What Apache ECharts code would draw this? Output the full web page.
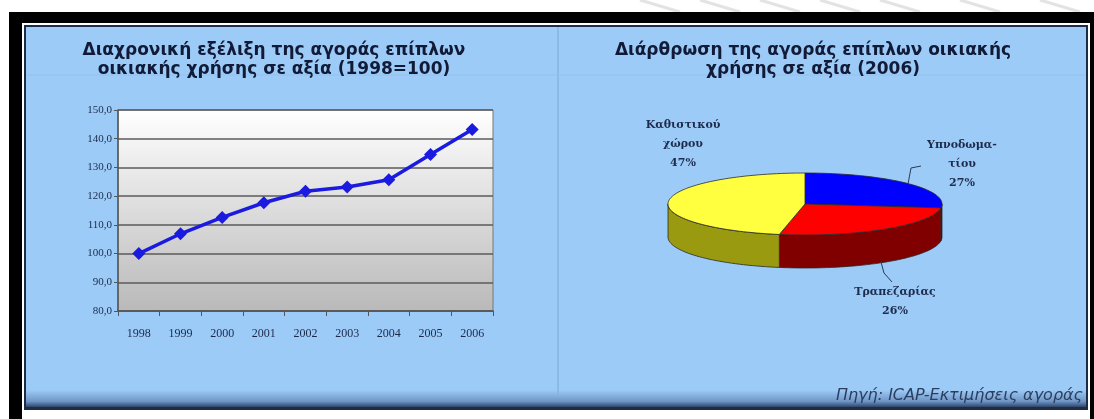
<!DOCTYPE html>
<html>
<head>
<meta charset="utf-8">
<script src="https://cdn.jsdelivr.net/npm/echarts@6/dist/echarts.min.js"></script>
<style>
  html, body { margin: 0; padding: 0; background: #fff; }
  #chart { width: 1094px; height: 419px; }
</style>
</head>
<body>
<div id="chart"></div>
<script>
// line chart: market index (1998=100)
const years = ["1998", "1999", "2000", "2001", "2002", "2003", "2004", "2005", "2006"];
const marketIndex = [100, 106.9, 112.6, 117.7, 121.7, 123.2, 125.7, 134.5, 143.2];

// pie: market structure 2006 (clockwise from 12 o'clock)
const rooms = ["Υπνοδωμα-\nτίου", "Τραπεζαρίας", "Καθιστικού\nχώρου"];
const roomShares = [27, 26, 47];

const titleLeft = "Διαχρονική εξέλιξη της αγοράς επίπλων\nοικιακής χρήσης σε αξία (1998=100)";
const titleRight = "Διάρθρωση της αγοράς επίπλων οικιακής\nχρήσης σε αξία (2006)";
const sourceText = "Πηγή: ICAP-Εκτιμήσεις αγοράς";

// pie geometry (pseudo 3D)
const CX = 805, CY = 204, RX = 137, RY = 31, DEPTH = 33;
const topColors = ["#0000ff", "#ff0000", "#ffff40"];
const sideColors = ["#00007a", "#800000", "#9a9a10"];

// start / end angles, degrees, going clockwise from the top
const total = roomShares.reduce((a, b) => a + b, 0);
const angStart = [], angEnd = [];
let acc = 90;
roomShares.forEach(v => {
  angStart.push(acc);
  acc -= v / total * 360;
  angEnd.push(acc);
});

function ellPt(deg, dy) {
  const r = deg * Math.PI / 180;
  return [CX + RX * Math.cos(r), CY - RY * Math.sin(r) + (dy || 0)];
}
function arc(from, to, dy) {
  const n = Math.max(2, Math.ceil(Math.abs(from - to) / 2));
  const pts = [];
  for (let k = 0; k <= n; k++) pts.push(ellPt(from + (to - from) * k / n, dy));
  return pts;
}

// label placement per slice (layout only)
const labelLayout = [
  { x: 962, y: 164, leader: [[908, 184], [911, 168], [921, 166]] },
  { x: 895, y: 302, leader: [[881, 262], [884, 273], [892, 282]] },
  { x: 683, y: 144, leader: null }
];

function renderSlice(params, api) {
  const i = params.dataIndex;
  const a1 = angStart[i], a2 = angEnd[i];
  const children = [];
  // visible front wall
  const hi = Math.min(a1, 0), lo = Math.max(a2, -180);
  if (hi > lo) {
    const pts = arc(hi, lo, 0).concat(arc(lo, hi, DEPTH));
    children.push({
      type: "polygon", z2: 1,
      shape: { points: pts },
      style: { fill: sideColors[i], stroke: "#2a2a2a", lineWidth: 0.8 }
    });
  }
  // top face
  children.push({
    type: "polygon", z2: 5,
    shape: { points: [[CX, CY]].concat(arc(a1, a2, 0)) },
    style: { fill: topColors[i], stroke: "#2a2a2a", lineWidth: 0.8 }
  });
  const lay = labelLayout[i];
  if (lay.leader) {
    children.push({
      type: "polyline", z2: 6,
      shape: { points: lay.leader },
      style: { stroke: "#2a3a55", lineWidth: 1, fill: null }
    });
  }
  const pct = Math.round(api.value(0) / total * 100) + "%";
  children.push({
    type: "text", z2: 7,
    x: lay.x, y: lay.y,
    style: {
      text: rooms[i] + "\n" + pct,
      fill: "#1d2b4c",
      font: "bold 11px 'DejaVu Serif', serif",
      lineHeight: 19,
      align: "center",
      verticalAlign: "middle"
    }
  });
  return { type: "group", children: children };
}

const streaks = [];
[640, 700, 760, 820, 880, 960, 1040].forEach(x => {
  streaks.push({
    type: "line", shape: { x1: x, y1: 0, x2: x + 40, y2: 12 },
    style: { stroke: "#d0d0d0", lineWidth: 3, opacity: 0.6 }, z: -10
  });
});

const chart = echarts.init(document.getElementById("chart"));
chart.setOption({
  animation: false,
  backgroundColor: "#ffffff",
  graphic: streaks.concat([
    { type: "rect", z: -9, shape: { x: 9, y: 12, width: 1085, height: 407 }, style: { fill: "#000" } },
    { type: "rect", z: -9, shape: { x: 22, y: 23, width: 1068, height: 396 }, style: { fill: "#fff" } },
    { type: "rect", z: -8, shape: { x: 24, y: 25, width: 1064, height: 385 }, style: { fill: "#1c2c44" } },
    {
      type: "rect", z: -7, shape: { x: 26, y: 27, width: 1060, height: 380 },
      style: {
        fill: new echarts.graphic.LinearGradient(0, 0, 0, 1, [
          { offset: 0, color: "#9dcbf8" },
          { offset: 0.955, color: "#9dcbf8" },
          { offset: 0.985, color: "#6f96c6" },
          { offset: 1, color: "#2f4668" }
        ])
      }
    },
    { type: "line", z: -6, shape: { x1: 558, y1: 27, x2: 558, y2: 395 }, style: { stroke: "#86b4e2", lineWidth: 1.5 } },
    { type: "line", z: -6, shape: { x1: 26, y1: 75, x2: 1086, y2: 75 }, style: { stroke: "#93c0ec", lineWidth: 1 } },
    {
      type: "text", z: 10, x: 1083, y: 396,
      style: {
        text: sourceText, fill: "#2b3e5e", align: "right", verticalAlign: "middle",
        font: "italic 16px 'DejaVu Sans', sans-serif"
      }
    }
  ]),
  title: [
    {
      text: titleLeft, left: 269, top: 36, textAlign: "center",
      textStyle: { fontFamily: "'DejaVu Sans'", fontSize: 17, fontWeight: "bold", color: "#111a36", lineHeight: 19 }
    },
    {
      text: titleRight, left: 808, top: 36, textAlign: "center",
      textStyle: { fontFamily: "'DejaVu Sans'", fontSize: 17, fontWeight: "bold", color: "#111a36", lineHeight: 19 }
    }
  ],
  grid: {
    left: 118, right: 601, top: 110, bottom: 108,
    show: true,
    borderColor: "#777", borderWidth: 1,
    backgroundColor: new echarts.graphic.LinearGradient(0, 0, 0, 1, [
      { offset: 0, color: "#ffffff" },
      { offset: 1, color: "#b9b9b9" }
    ])
  },
  xAxis: {
    type: "category",
    data: years,
    boundaryGap: true,
    axisLine: { lineStyle: { color: "#555", width: 1.5 } },
    axisTick: { show: true, length: 5, lineStyle: { color: "#555" } },
    axisLabel: { margin: 17, color: "#1c2a4a", fontFamily: "'Liberation Serif', serif", fontSize: 12 }
  },
  yAxis: {
    type: "value",
    min: 80, max: 150, interval: 10,
    axisLine: { show: true, lineStyle: { color: "#555", width: 1.5 } },
    axisTick: { show: true, length: 4, lineStyle: { color: "#555" } },
    splitLine: { lineStyle: { color: "#5a5a5a", width: 1.5 } },
    axisLabel: {
      margin: 6, color: "#1c2a4a", fontFamily: "'Liberation Serif', serif", fontSize: 11,
      formatter: v => v.toFixed(1).replace(".", ",")
    }
  },
  series: [
    {
      type: "line",
      data: marketIndex,
      symbol: "diamond",
      symbolSize: 13,
      itemStyle: { color: "#1a1ae0" },
      lineStyle: { color: "#1a1ae0", width: 3.5 }
    },
    {
      type: "custom",
      coordinateSystem: "none",
      data: roomShares,
      renderItem: renderSlice
    }
  ]
});
</script>
</body>
</html>
